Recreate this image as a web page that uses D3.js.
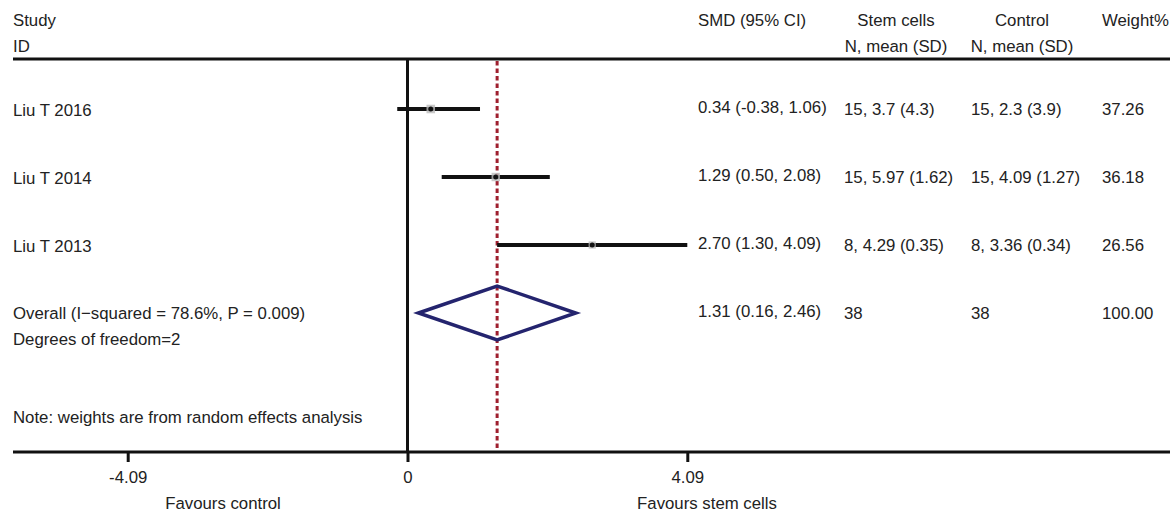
<!DOCTYPE html>
<html>
<head>
<meta charset="utf-8">
<script src="https://cdn.jsdelivr.net/npm/d3@7"></script>
<style>
  body { margin: 0; background: #fff; }
  svg text { font-family: "Liberation Sans", Arial, sans-serif; font-size: 16.8px; fill: #222; }
</style>
</head>
<body>
<div id="forest"></div>
<script>
// Study data
var studies = ["Liu T 2016", "Liu T 2014", "Liu T 2013"];
var smd = [0.34, 1.29, 2.70];
// CI ends as drawn in the figure
var ciLow = [-0.15, 0.50, 1.31];
var ciHigh = [1.06, 2.08, 4.09];
var weights = [37.26, 36.18, 26.56];

// Table text columns
var smdText = ["0.34 (-0.38, 1.06)", "1.29 (0.50, 2.08)", "2.70 (1.30, 4.09)", "1.31 (0.16, 2.46)"];
var stemText = ["15, 3.7 (4.3)", "15, 5.97 (1.62)", "8, 4.29 (0.35)", "38"];
var controlText = ["15, 2.3 (3.9)", "15, 4.09 (1.27)", "8, 3.36 (0.34)", "38"];
var weightText = ["37.26", "36.18", "26.56", "100.00"];

// Pooled estimate
var overall = [0.16, 1.31, 2.46];
var overallLabel = "Overall (I\u2212squared = 78.6%, P = 0.009)";

// Axis
var tickValues = [-4.09, 0, 4.09];

var width = 1174, height = 516;
var left = 13, right = 1170;
var topRule = 59, axisY = 452;

var svg = d3.select("#forest")
  .append("svg")
  .attr("width", width)
  .attr("height", height);

var xScale = d3.scaleLinear().domain([-4.09, 4.09]).range([127.7, 687.3]);
var yScale = d3.scaleLinear().domain([0, 3]).range([109, 313]);

// Header
var header = svg.append("g").attr("class", "header");
header.append("text").attr("x", left).attr("y", 20).attr("dominant-baseline", "central").text("Study");
header.append("text").attr("x", left).attr("y", 46).attr("dominant-baseline", "central").text("ID");
header.append("text").attr("x", 698).attr("y", 20).attr("dominant-baseline", "central").text("SMD (95% CI)");
header.append("text").attr("x", 896).attr("y", 20).attr("text-anchor", "middle").attr("dominant-baseline", "central").text("Stem cells");
header.append("text").attr("x", 896).attr("y", 46).attr("text-anchor", "middle").attr("dominant-baseline", "central").text("N, mean (SD)");
header.append("text").attr("x", 1022).attr("y", 20).attr("text-anchor", "middle").attr("dominant-baseline", "central").text("Control");
header.append("text").attr("x", 1022).attr("y", 46).attr("text-anchor", "middle").attr("dominant-baseline", "central").text("N, mean (SD)");
header.append("text").attr("x", 1102).attr("y", 20).attr("dominant-baseline", "central").text("Weight%");

// Rules
svg.append("line")
  .attr("x1", left).attr("x2", right)
  .attr("y1", topRule).attr("y2", topRule)
  .attr("stroke", "#111").attr("stroke-width", 3);

// Zero line
svg.append("line")
  .attr("x1", xScale(0)).attr("x2", xScale(0))
  .attr("y1", topRule).attr("y2", axisY)
  .attr("stroke", "#111").attr("stroke-width", 3);

// Overall effect line
svg.append("line")
  .attr("x1", xScale(overall[1])).attr("x2", xScale(overall[1]))
  .attr("y1", topRule + 2).attr("y2", axisY)
  .attr("stroke", "#9e1f2e").attr("stroke-width", 3)
  .attr("stroke-dasharray", "4.5,3");

// Bottom axis
var xAxis = d3.axisBottom(xScale)
  .tickValues(tickValues)
  .tickSize(10)
  .tickPadding(9)
  .tickFormat(d => d === 0 ? "0" : d.toFixed(2));

var axisG = svg.append("g")
  .attr("class", "x axis")
  .attr("transform", "translate(0," + axisY + ")")
  .call(xAxis);
axisG.select(".domain").remove();
axisG.selectAll(".tick line").attr("stroke", "#111").attr("stroke-width", 3);
axisG.selectAll(".tick text").attr("font-size", null).attr("font-family", null).attr("fill", "#222");

svg.append("line")
  .attr("x1", left).attr("x2", right)
  .attr("y1", axisY).attr("y2", axisY)
  .attr("stroke", "#111").attr("stroke-width", 3);

svg.append("text").attr("x", 223).attr("y", 503).attr("text-anchor", "middle").attr("dominant-baseline", "central").text("Favours control");
svg.append("text").attr("x", 707).attr("y", 503).attr("text-anchor", "middle").attr("dominant-baseline", "central").text("Favours stem cells");

// Study rows
var rows = svg.append("g").attr("class", "rows")
  .selectAll("g")
  .data(studies)
  .enter()
  .append("g");

rows.append("text")
  .attr("x", left).attr("y", (d, i) => yScale(i) + 1)
  .attr("dominant-baseline", "central")
  .text(d => d);

rows.append("line")
  .attr("x1", (d, i) => xScale(ciLow[i]))
  .attr("x2", (d, i) => xScale(ciHigh[i]))
  .attr("y1", (d, i) => yScale(i))
  .attr("y2", (d, i) => yScale(i))
  .attr("stroke", "#111").attr("stroke-width", 4);

rows.append("rect")
  .attr("x", (d, i) => xScale(smd[i]) - 0.7 * Math.sqrt(weights[i]))
  .attr("y", (d, i) => yScale(i) - 0.7 * Math.sqrt(weights[i]))
  .attr("width", (d, i) => 1.4 * Math.sqrt(weights[i]))
  .attr("height", (d, i) => 1.4 * Math.sqrt(weights[i]))
  .attr("fill", "#bbb").attr("opacity", 0.8);

rows.append("circle")
  .attr("cx", (d, i) => xScale(smd[i]))
  .attr("cy", (d, i) => yScale(i))
  .attr("r", 2.5)
  .attr("fill", "#111");

// Overall diamond
var dy = 27;
var yo = yScale(3);
svg.append("path")
  .attr("d", "M" + xScale(overall[0]) + "," + yo +
    "L" + xScale(overall[1]) + "," + (yo - dy) +
    "L" + xScale(overall[2]) + "," + yo +
    "L" + xScale(overall[1]) + "," + (yo + dy) + "Z")
  .attr("fill", "none")
  .attr("stroke", "#24246e")
  .attr("stroke-width", 3.5)
  .attr("stroke-linejoin", "miter");

svg.append("text").attr("x", left).attr("y", yo).attr("dominant-baseline", "central").text(overallLabel);
svg.append("text").attr("x", left).attr("y", 339).attr("dominant-baseline", "central").text("Degrees of freedom=2");
svg.append("text").attr("x", left).attr("y", 417).attr("dominant-baseline", "central").text("Note: weights are from random effects analysis");

// Table columns
var colX = [698, 844, 971, 1102];
var cols = [smdText, stemText, controlText, weightText];
cols.forEach(function(col, c) {
  svg.append("g")
    .selectAll("text")
    .data(col)
    .enter()
    .append("text")
    .attr("x", colX[c])
    .attr("y", (d, i) => yScale(i) - (c === 0 ? 2 : 0))
    .attr("dominant-baseline", "central")
    .text(d => d);
});
</script>
</body>
</html>
